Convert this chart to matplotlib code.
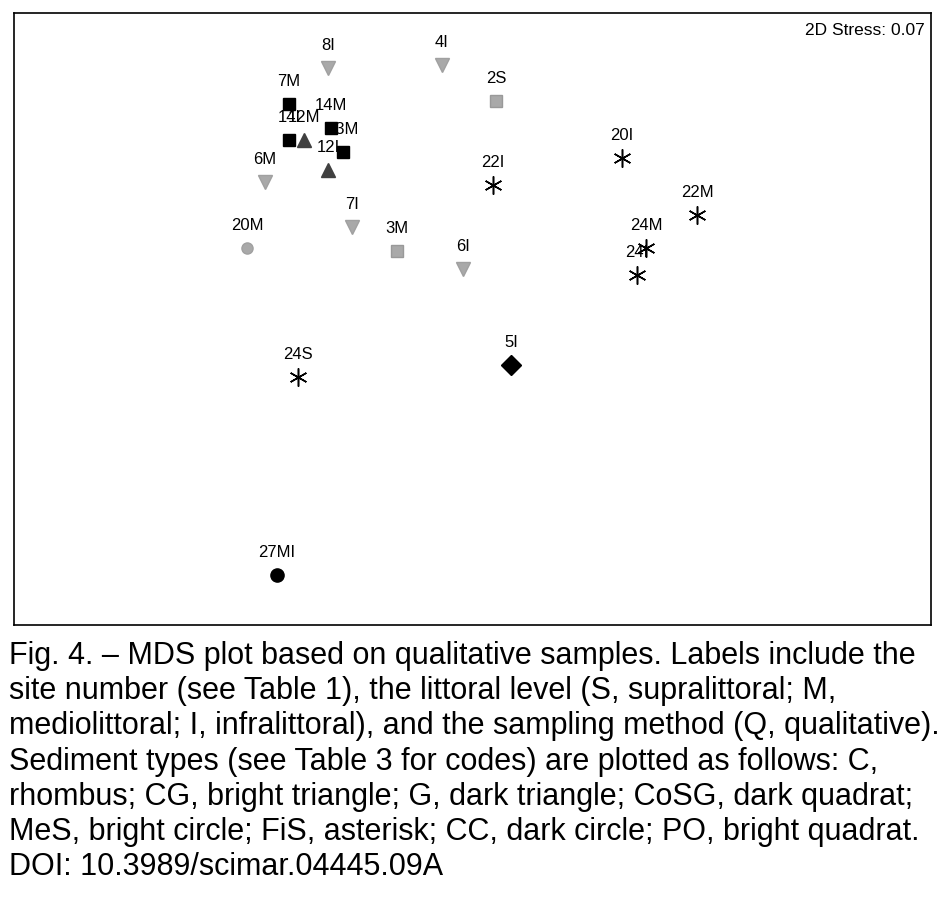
import matplotlib
matplotlib.use("Agg")
import matplotlib.pyplot as plt

plt.rcParams['font.family'] = ['Liberation Sans', 'DejaVu Sans']

# MDS coordinates (arbitrary units)
labels = ["8I", "4I", "2S", "7M", "14M", "14I", "12M", "13M", "12I", "6M",
          "7I", "20M", "3M", "6I", "22I", "20I", "22M", "24M", "24I", "24S",
          "5I", "27MI"]
mds_x = [-0.48, -0.10, 0.08, -0.61, -0.47, -0.61, -0.56, -0.43, -0.48, -0.69,
         -0.40, -0.75, -0.25, -0.03, 0.07, 0.50, 0.75, 0.58, 0.55, -0.58,
         0.13, -0.65]
mds_y = [0.84, 0.85, 0.73, 0.72, 0.64, 0.60, 0.60, 0.56, 0.50, 0.46,
         0.31, 0.24, 0.23, 0.17, 0.45, 0.54, 0.35, 0.24, 0.15, -0.19,
         -0.15, -0.85]
sediment = ["CG", "CG", "PO", "CoSG", "CoSG", "CoSG", "G", "CoSG", "G", "CG",
            "CG", "MeS", "PO", "CG", "FiS", "FiS", "FiS", "FiS", "FiS", "FiS",
            "C", "CC"]
stress = 0.07

caption = [
    "Fig. 4. \u2013 MDS plot based on qualitative samples. Labels include the",
    "site number (see Table 1), the littoral level (S, supralittoral; M,",
    "mediolittoral; I, infralittoral), and the sampling method (Q, qualitative).",
    "Sediment types (see Table 3 for codes) are plotted as follows: C,",
    "rhombus; CG, bright triangle; G, dark triangle; CoSG, dark quadrat;",
    "MeS, bright circle; FiS, asterisk; CC, dark circle; PO, bright quadrat.",
    "DOI: 10.3989/scimar.04445.09A",
]

styles = {
    "C":    dict(marker="D", ms=10, color="black", mec="black"),
    "CG":   dict(marker="v", ms=10, color="#a9a9a9", mec="#a0a0a0"),
    "G":    dict(marker="^", ms=10, color="#404040", mec="#404040"),
    "CoSG": dict(marker="s", ms=8.5, color="black", mec="black"),
    "MeS":  dict(marker="o", ms=8, color="#a9a9a9", mec="#a0a0a0"),
    "FiS":  dict(marker=(6, 2, 0), ms=13, color="black", mec="black", mew=1.1),
    "CC":   dict(marker="o", ms=9.5, color="black", mec="black"),
    "PO":   dict(marker="s", ms=8.5, color="#a9a9a9", mec="#999999"),
}

fig = plt.figure(figsize=(9.45, 9.01), dpi=100)
W, H = 945, 901
ax = fig.add_axes([14 / W, 1 - 625 / H, (931 - 14) / W, (625 - 13) / H])

for lab, x, y, sed in zip(labels, mds_x, mds_y, sediment):
    ax.plot([x], [y], linestyle="none", zorder=3, **styles[sed])
    ax.annotate(lab, (x, y), xytext=(0, 16), textcoords="offset points",
                ha="center", va="center", fontsize=12, zorder=2)

ax.set_xlim(-1.527, 1.53)
ax.set_ylim(-1.017, 1.023)
ax.set_xticks([])
ax.set_yticks([])
for s in ax.spines.values():
    s.set_linewidth(1.2)
    s.set_color("black")

ax.text(0.9935, 0.972, "2D Stress: %.2f" % stress, transform=ax.transAxes,
        ha="right", va="center", fontsize=12.5)

for i, line in enumerate(caption):
    fig.text(9 / W, 1 - (656 + i * 35.2) / H, line, ha="left", va="center",
             fontsize=22)

fig.savefig("out.png", dpi=100)
